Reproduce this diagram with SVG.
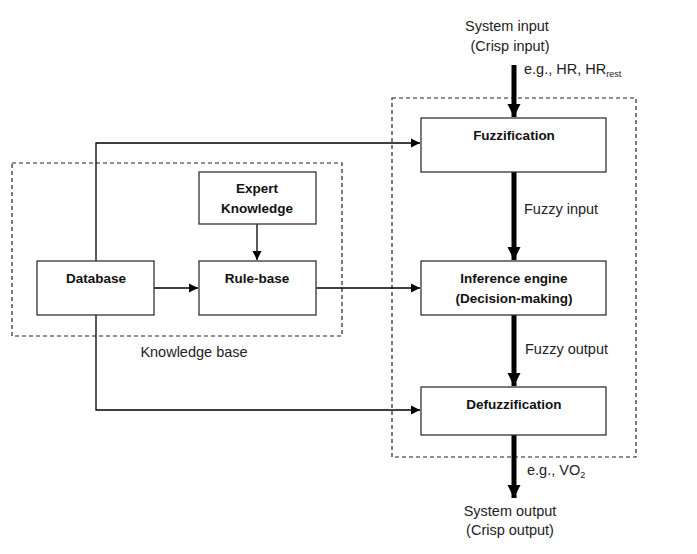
<svg xmlns="http://www.w3.org/2000/svg" width="697" height="554" viewBox="0 0 697 554">
<defs>
<marker id="thin" markerUnits="userSpaceOnUse" markerWidth="10" markerHeight="10" refX="9" refY="5" orient="auto">
<path d="M0,0.5 L9,5 L0,9.5 Z" fill="#000"/>
</marker>
<marker id="thick" markerUnits="userSpaceOnUse" markerWidth="14" markerHeight="14" refX="13" refY="7" orient="auto">
<path d="M0,0.5 L13,7 L0,13.5 Z" fill="#000"/>
</marker>
</defs>
<style>
.box{fill:#fff;stroke:#333;stroke-width:1.3}
.dash{fill:none;stroke:#222;stroke-width:1.2;stroke-dasharray:4,3}
.b{font-family:"Liberation Sans",Arial,sans-serif;font-size:13.5px;font-weight:bold;fill:#111;text-anchor:middle}
.t{font-family:"Liberation Sans",Arial,sans-serif;font-size:14.5px;fill:#222}
.c{text-anchor:middle}
.thin{fill:none;stroke:#000;stroke-width:1.3}
.thick{fill:none;stroke:#000;stroke-width:5}
</style>
<rect width="697" height="554" fill="#fff"/>
<g id="knowledge-base">
<rect class="dash" x="12" y="163" width="330" height="173"/>
<text class="t c" x="194" y="357">Knowledge base</text>
</g>
<g id="fis">
<rect class="dash" x="392" y="98" width="244" height="359"/>
</g>
<g id="connectors">
<path class="thin" d="M96,261 V143 H420" marker-end="url(#thin)"/>
<path class="thin" d="M96,315 V410 H420" marker-end="url(#thin)"/>
<path class="thin" d="M154,288 H198" marker-end="url(#thin)"/>
<path class="thin" d="M257,224 V260" marker-end="url(#thin)"/>
<path class="thin" d="M316,288 H420" marker-end="url(#thin)"/>
<path class="thick" d="M514,65 V117" marker-end="url(#thick)"/>
<path class="thick" d="M514,172 V260" marker-end="url(#thick)"/>
<path class="thick" d="M514,315 V386" marker-end="url(#thick)"/>
<path class="thick" d="M514,435 V498" marker-end="url(#thick)"/>
</g>
<g id="system-input">
<text class="t c" x="507" y="31">System input</text>
<text class="t c" x="510" y="51">(Crisp input)</text>
<text class="t" x="524" y="74">e.g., HR, HR<tspan font-size="9" dy="3">rest</tspan></text>
</g>
<g id="fuzzification">
<rect class="box" x="421" y="118" width="185" height="54"/>
<text class="b" x="514" y="140">Fuzzification</text>
</g>
<g id="fuzzy-input-label">
<text class="t" x="524" y="214">Fuzzy input</text>
</g>
<g id="inference-engine">
<rect class="box" x="421" y="261" width="185" height="54"/>
<text class="b" x="514" y="283">Inference engine</text>
<text class="b" x="514" y="303">(Decision-making)</text>
</g>
<g id="fuzzy-output-label">
<text class="t" x="525" y="354">Fuzzy output</text>
</g>
<g id="defuzzification">
<rect class="box" x="421" y="387" width="185" height="48"/>
<text class="b" x="514" y="409">Defuzzification</text>
</g>
<g id="system-output">
<text class="t" x="527" y="475">e.g., VO<tspan font-size="9" dy="3">2</tspan></text>
<text class="t c" x="510" y="516">System output</text>
<text class="t c" x="510" y="535">(Crisp output)</text>
</g>
<g id="expert-knowledge">
<rect class="box" x="199" y="172" width="117" height="52"/>
<text class="b" x="257" y="193">Expert</text>
<text class="b" x="257" y="213">Knowledge</text>
</g>
<g id="database">
<rect class="box" x="37" y="261" width="117" height="54"/>
<text class="b" x="96" y="283">Database</text>
</g>
<g id="rule-base">
<rect class="box" x="199" y="261" width="117" height="54"/>
<text class="b" x="257" y="283">Rule-base</text>
</g>
</svg>
